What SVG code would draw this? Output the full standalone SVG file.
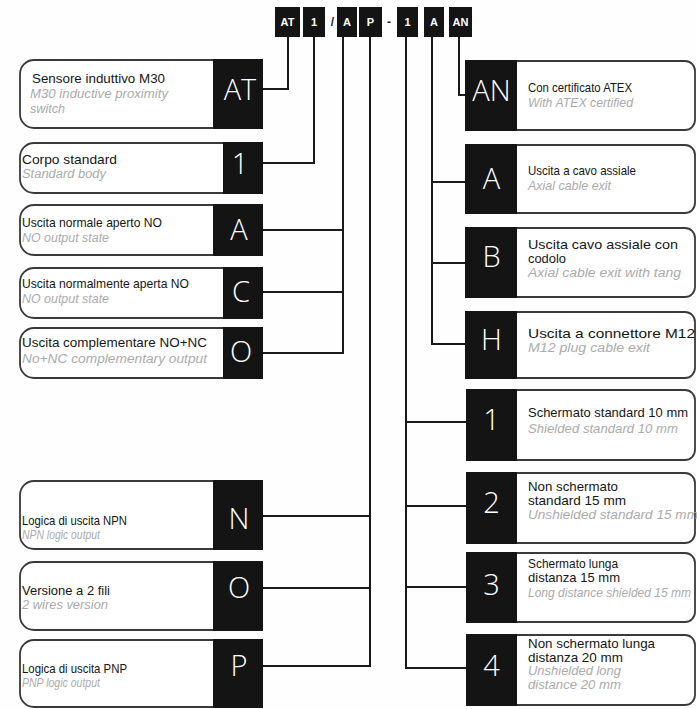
<svg xmlns="http://www.w3.org/2000/svg" width="697" height="709" viewBox="0 0 697 709">
<style>
.bg{fill:#fefefe}
.ob{fill:#fff;stroke:#3a3a3a;stroke-width:1.8}
.blk{fill:#141414}
.big{font-family:"Open Sans","Liberation Sans",sans-serif;font-weight:300;font-size:29px;fill:#fff;text-anchor:middle}
.t{font-family:"Liberation Sans",Arial,sans-serif;font-size:13px;fill:#161616}
.s{font-family:"Liberation Sans",Arial,sans-serif;font-size:12.5px;font-style:italic;fill:#ababab}
.cb{fill:#141414}
.ct{font-family:"Liberation Sans",Arial,sans-serif;font-weight:bold;font-size:11px;fill:#fff;text-anchor:middle}
.sep{font-family:"Liberation Sans",Arial,sans-serif;font-weight:bold;font-size:12px;fill:#1e1e1e;text-anchor:middle}
.ln{fill:none;stroke:#1a1a1a;stroke-width:2}
</style>
<rect class="bg" x="0" y="0" width="697" height="709"/>

<g id="code">
<rect class="cb" x="275" y="7" width="25" height="30"/><text class="ct" x="287.5" y="26">AT</text>
<rect class="cb" x="303" y="7" width="22" height="30"/><text class="ct" x="314" y="26">1</text>
<text class="sep" x="332.5" y="26">/</text>
<rect class="cb" x="337" y="7" width="20" height="30"/><text class="ct" x="347" y="26">A</text>
<rect class="cb" x="359" y="7" width="23" height="30"/><text class="ct" x="370.5" y="26">P</text>
<text class="sep" x="389" y="26">-</text>
<rect class="cb" x="397" y="7" width="21" height="30"/><text class="ct" x="407.5" y="26">1</text>
<rect class="cb" x="424" y="7" width="20" height="30"/><text class="ct" x="434" y="26">A</text>
<rect class="cb" x="449" y="7" width="23" height="30"/><text class="ct" x="460.5" y="26">AN</text>
</g>

<g id="connectors">
<path class="ln" d="M288,37 V89 H262"/>
<path class="ln" d="M314,37 V163 H262"/>
<path class="ln" d="M343,37 V353 H262 M343,230 H262 M343,292 H262"/>
<path class="ln" d="M370,37 V666 H262 M370,516 H262 M370,588 H262"/>
<path class="ln" d="M406,37 V668 H467 M406,422 H467 M406,506 H467 M406,587 H467"/>
<path class="ln" d="M432,37 V344 H466 M432,182 H466 M432,263 H466"/>
<path class="ln" d="M459,37 V95 H466"/>
</g>

<g id="L-AT">
<rect class="ob" x="20" y="60" width="242" height="68" rx="14"/>
<rect class="blk" x="213" y="59" width="50" height="70"/>
<text class="big" x="240" y="100">AT</text>
<text class="t" x="32" y="83" textLength="133" lengthAdjust="spacingAndGlyphs">Sensore induttivo M30</text>
<text class="s" x="30" y="98" textLength="138" lengthAdjust="spacingAndGlyphs">M30 inductive proximity</text>
<text class="s" x="30" y="113" textLength="35" lengthAdjust="spacingAndGlyphs">switch</text>
</g>
<g id="L-1">
<rect class="ob" x="20" y="143" width="242" height="50" rx="14"/>
<rect class="blk" x="223" y="142" width="40" height="52"/>
<text class="big" x="240" y="174">1</text>
<text class="t" x="22" y="164" textLength="95" lengthAdjust="spacingAndGlyphs">Corpo standard</text>
<text class="s" x="22" y="178" textLength="84" lengthAdjust="spacingAndGlyphs">Standard body</text>
</g>
<g id="L-A">
<rect class="ob" x="20" y="205" width="242" height="50" rx="14"/>
<rect class="blk" x="213" y="204" width="50" height="52"/>
<text class="big" x="239" y="240">A</text>
<text class="t" x="22" y="227" textLength="140" lengthAdjust="spacingAndGlyphs">Uscita normale aperto NO</text>
<text class="s" x="22" y="242" textLength="87" lengthAdjust="spacingAndGlyphs">NO output state</text>
</g>
<g id="L-C">
<rect class="ob" x="20" y="268" width="242" height="50" rx="14"/>
<rect class="blk" x="223" y="267" width="40" height="52"/>
<text class="big" x="241" y="302">C</text>
<text class="t" x="22" y="288" textLength="167" lengthAdjust="spacingAndGlyphs">Uscita normalmente aperta NO</text>
<text class="s" x="22" y="303" textLength="87" lengthAdjust="spacingAndGlyphs">NO output state</text>
</g>
<g id="L-O">
<rect class="ob" x="20" y="328" width="242" height="50" rx="14"/>
<rect class="blk" x="223" y="327" width="40" height="52"/>
<text class="big" x="241" y="362">O</text>
<text class="t" x="22" y="347" textLength="185" lengthAdjust="spacingAndGlyphs">Uscita complementare NO+NC</text>
<text class="s" x="22" y="363" textLength="185" lengthAdjust="spacingAndGlyphs">No+NC complementary output</text>
</g>
<g id="L-N">
<rect class="ob" x="20" y="481" width="242" height="68" rx="14"/>
<rect class="blk" x="213" y="480" width="50" height="70"/>
<text class="big" x="239" y="529">N</text>
<text class="t" x="22" y="525" textLength="105" lengthAdjust="spacingAndGlyphs">Logica di uscita NPN</text>
<text class="s" x="22" y="539" textLength="78" lengthAdjust="spacingAndGlyphs">NPN logic output</text>
</g>
<g id="L-O2">
<rect class="ob" x="20" y="562" width="242" height="68" rx="14"/>
<rect class="blk" x="213" y="561" width="50" height="70"/>
<text class="big" x="239" y="598">O</text>
<text class="t" x="22" y="595" textLength="88" lengthAdjust="spacingAndGlyphs">Versione a 2 fili</text>
<text class="s" x="22" y="609" textLength="86" lengthAdjust="spacingAndGlyphs">2 wires version</text>
</g>
<g id="L-P">
<rect class="ob" x="20" y="640" width="242" height="67" rx="14"/>
<rect class="blk" x="213" y="639" width="50" height="69"/>
<text class="big" x="239" y="676">P</text>
<text class="t" x="22" y="673" textLength="105" lengthAdjust="spacingAndGlyphs">Logica di uscita PNP</text>
<text class="s" x="22" y="687" textLength="78" lengthAdjust="spacingAndGlyphs">PNP logic output</text>
</g>

<g id="R-AN">
<rect class="ob" x="466" y="61" width="229" height="69" rx="10"/>
<rect class="blk" x="465" y="60" width="52" height="71"/>
<text class="big" x="491.5" y="101">AN</text>
<text class="t" x="528" y="92" textLength="104" lengthAdjust="spacingAndGlyphs">Con certificato ATEX</text>
<text class="s" x="528" y="107" textLength="105" lengthAdjust="spacingAndGlyphs">With ATEX certified</text>
</g>
<g id="R-A">
<rect class="ob" x="466" y="145" width="229" height="68" rx="10"/>
<rect class="blk" x="465" y="144" width="52" height="70"/>
<text class="big" x="491.5" y="189">A</text>
<text class="t" x="528" y="175" textLength="108" lengthAdjust="spacingAndGlyphs">Uscita a cavo assiale</text>
<text class="s" x="528" y="190" textLength="83" lengthAdjust="spacingAndGlyphs">Axial cable exit</text>
</g>
<g id="R-B">
<rect class="ob" x="466" y="228" width="229" height="69" rx="10"/>
<rect class="blk" x="465" y="227" width="52" height="71"/>
<text class="big" x="491.5" y="267">B</text>
<text class="t" x="528" y="249" textLength="150" lengthAdjust="spacingAndGlyphs">Uscita cavo assiale con</text>
<text class="t" x="528" y="263" textLength="38" lengthAdjust="spacingAndGlyphs">codolo</text>
<text class="s" x="528" y="277" textLength="153" lengthAdjust="spacingAndGlyphs">Axial cable exit with tang</text>
</g>
<g id="R-H">
<rect class="ob" x="466" y="312" width="229" height="66" rx="10"/>
<rect class="blk" x="465" y="311" width="52" height="68"/>
<text class="big" x="491.5" y="350">H</text>
<text class="t" x="528" y="338" textLength="167" lengthAdjust="spacingAndGlyphs">Uscita a connettore M12</text>
<text class="s" x="528" y="352" textLength="122" lengthAdjust="spacingAndGlyphs">M12 plug cable exit</text>
</g>
<g id="R-1">
<rect class="ob" x="467" y="390" width="228" height="70" rx="10"/>
<rect class="blk" x="466" y="389" width="51" height="72"/>
<text class="big" x="491.5" y="430">1</text>
<text class="t" x="528" y="417" textLength="160" lengthAdjust="spacingAndGlyphs">Schermato standard 10 mm</text>
<text class="s" x="528" y="433" textLength="150" lengthAdjust="spacingAndGlyphs">Shielded standard  10 mm</text>
</g>
<g id="R-2">
<rect class="ob" x="467" y="473" width="228" height="70" rx="10"/>
<rect class="blk" x="466" y="472" width="51" height="72"/>
<text class="big" x="491.5" y="513">2</text>
<text class="t" x="528" y="491" textLength="90" lengthAdjust="spacingAndGlyphs">Non schermato</text>
<text class="t" x="528" y="505" textLength="98" lengthAdjust="spacingAndGlyphs">standard 15 mm</text>
<text class="s" x="528" y="519" textLength="170" lengthAdjust="spacingAndGlyphs">Unshielded standard 15 mm</text>
</g>
<g id="R-3">
<rect class="ob" x="467" y="553" width="228" height="69" rx="10"/>
<rect class="blk" x="466" y="552" width="51" height="71"/>
<text class="big" x="491.5" y="595">3</text>
<text class="t" x="528" y="568" textLength="90" lengthAdjust="spacingAndGlyphs">Schermato lunga</text>
<text class="t" x="528" y="582" textLength="92" lengthAdjust="spacingAndGlyphs">distanza 15 mm</text>
<text class="s" x="528" y="597" textLength="163" lengthAdjust="spacingAndGlyphs">Long distance shielded 15 mm</text>
</g>
<g id="R-4">
<rect class="ob" x="467" y="635" width="228" height="70" rx="10"/>
<rect class="blk" x="466" y="634" width="51" height="72"/>
<text class="big" x="491.5" y="676">4</text>
<text class="t" x="528" y="648" textLength="127" lengthAdjust="spacingAndGlyphs">Non schermato lunga</text>
<text class="t" x="528" y="662" textLength="95" lengthAdjust="spacingAndGlyphs">distanza 20 mm</text>
<text class="s" x="528" y="675" textLength="93" lengthAdjust="spacingAndGlyphs">Unshielded long</text>
<text class="s" x="528" y="689" textLength="93" lengthAdjust="spacingAndGlyphs">distance 20 mm</text>
</g>
</svg>
